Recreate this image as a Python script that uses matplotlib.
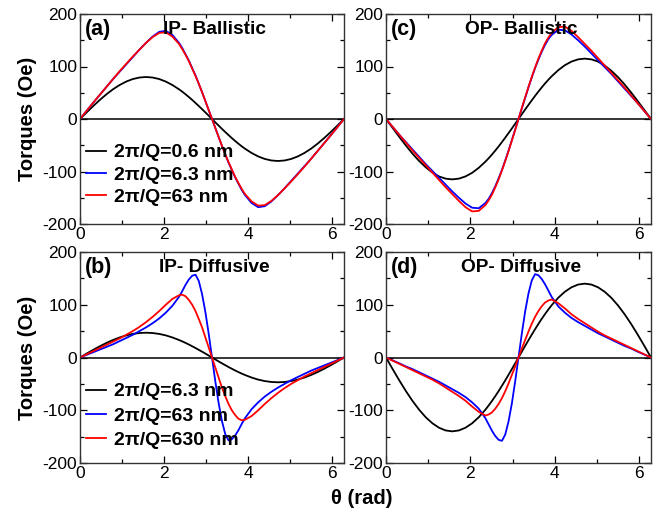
import numpy as np
import matplotlib
matplotlib.use("Agg")
import matplotlib.pyplot as plt
from matplotlib.ticker import MultipleLocator

plt.rcParams['font.family'] = ['Liberation Sans', 'DejaVu Sans']
plt.rcParams['axes.unicode_minus'] = False

# angle grid (degrees), finer near theta = pi
theta_deg = [0, 9, 18, 27, 36, 45, 54, 63, 72, 81, 90, 99, 108, 117, 126, 135,
             139.5, 144, 148.5, 153, 157.5, 162, 166.5, 171, 175.5, 180,
             184.5, 189, 193.5, 198, 202.5, 207, 211.5, 216, 220.5, 225,
             234, 243, 252, 261, 270, 279, 288, 297, 306, 315, 324, 333, 342, 351, 360]

# (a) IP - Ballistic
a_06 = [0, 12.5, 24.7, 36.3, 47.0, 56.6, 64.7, 71.3, 76.1, 79.0, 80.0, 79.0, 76.1, 71.3, 64.7, 56.6,
        52.0, 47.0, 41.8, 36.3, 30.6, 24.7, 18.7, 12.5, 6.3, 0,
        -6.3, -12.5, -18.7, -24.7, -30.6, -36.3, -41.8, -47.0, -52.0, -56.6,
        -64.7, -71.3, -76.1, -79.0, -80.0, -79.0, -76.1, -71.3, -64.7, -56.6, -47.0, -36.3, -24.7, -12.5, 0]
a_63 = [0, 15.5, 31, 46, 61, 76, 90, 104, 118, 132, 145, 157, 166, 168, 160, 145,
        135, 123, 111, 97, 83, 67, 51, 34, 17, 0,
        -17, -34, -51, -67, -83, -97, -111, -123, -135, -145,
        -160, -168, -166, -157, -145, -132, -118, -104, -90, -76, -61, -46, -31, -15.5, 0]
a_630 = [0, 15.5, 31, 46, 61, 76, 91, 105, 119, 132, 145, 156, 164, 165, 157, 143,
         133, 122, 110, 96, 82, 67, 51, 34, 17, 0,
         -17, -34, -51, -67, -82, -96, -110, -122, -133, -143,
         -157, -165, -164, -156, -145, -132, -119, -105, -91, -76, -61, -46, -31, -15.5, 0]

# (c) OP - Ballistic
c_06 = [0, -17.0, -34.0, -50.5, -66.0, -80.0, -92.0, -102.0, -109.4, -113.6, -115.0, -113.6, -109.4, -102.5, -93.0, -81.3,
        -74.7, -67.6, -60.1, -52.2, -44.0, -35.5, -26.8, -18.0, -9.0, 0,
        9.0, 18.0, 26.8, 35.5, 44.0, 52.2, 60.1, 67.6, 74.7, 81.3,
        93.0, 102.5, 109.4, 113.6, 115.0, 113.6, 109.4, 102.0, 92.0, 80.0, 66.0, 50.5, 34.0, 17.0, 0]
c_63 = [0, -15, -30, -44, -58, -72, -86, -99, -112, -125, -138, -150, -161, -169, -170, -160,
        -152, -141, -128, -113, -97, -79, -60, -40, -20, 0,
        20, 40, 60, 79, 97, 113, 128, 141, 152, 160,
        170, 169, 161, 150, 138, 125, 112, 99, 86, 72, 58, 44, 30, 15, 0]
c_630 = [0, -15, -30, -45, -60, -74, -88, -102, -116, -130, -143, -156, -168, -176, -175, -164,
         -155, -144, -130, -115, -98, -80, -61, -41, -21, 0,
         21, 41, 61, 80, 98, 115, 130, 144, 155, 164,
         175, 176, 168, 156, 143, 130, 116, 102, 88, 74, 60, 45, 30, 15, 0]

# (b) IP - Diffusive
b_63 = [0, 7.4, 14.5, 21.3, 27.6, 33.2, 38.0, 41.9, 44.7, 46.4, 47.0, 46.4, 44.7, 41.9, 38.0, 33.2,
        30.5, 27.6, 24.6, 21.3, 18.0, 14.5, 11.0, 7.4, 3.7, 0,
        -3.7, -7.4, -11.0, -14.5, -18.0, -21.3, -24.6, -27.6, -30.5, -33.2,
        -38.0, -41.9, -44.7, -46.4, -47.0, -46.4, -44.7, -41.9, -38.0, -33.2, -27.6, -21.3, -14.5, -7.4, 0]
b_630 = [0, 5, 10, 15, 20, 25, 31, 37, 43, 50, 57, 65, 74, 85, 98, 115,
         126, 138, 148, 155, 157, 145, 120, 86, 45, 0,
         -45, -86, -120, -145, -157, -155, -148, -138, -126, -115,
         -98, -85, -74, -65, -57, -50, -43, -37, -31, -25, -20, -15, -10, -5, 0]
b_6300 = [0, 6, 12, 18, 24, 30, 36, 43, 50, 58, 67, 77, 88, 100, 111, 118,
          119, 116, 109, 100, 88, 73, 57, 38, 19, 0,
          -19, -38, -57, -73, -88, -100, -109, -116, -119, -118,
          -111, -100, -88, -77, -67, -58, -50, -43, -36, -30, -24, -18, -12, -6, 0]

# (d) OP - Diffusive
d_63 = [0, -21.9, -43.3, -63.6, -82.3, -99.0, -113.3, -124.7, -133.1, -138.3, -140.0, -138.3, -133.1, -124.7, -113.3, -99.0,
        -90.9, -82.3, -73.2, -63.6, -53.6, -43.3, -32.7, -21.9, -11.0, 0,
        11.0, 21.9, 32.7, 43.3, 53.6, 63.6, 73.2, 82.3, 90.9, 99.0,
        113.3, 124.7, 133.1, 138.3, 140.0, 138.3, 133.1, 124.7, 113.3, 99.0, 82.3, 63.6, 43.3, 21.9, 0]
d_630 = [0, -5.5, -11, -17, -22, -28, -34, -40, -46, -53, -60, -67, -75, -85, -97, -115,
         -127, -139, -149, -156, -158, -146, -121, -87, -45, 0,
         45, 87, 121, 146, 158, 156, 149, 139, 127, 115,
         97, 85, 75, 67, 60, 53, 46, 40, 34, 28, 22, 17, 11, 5.5, 0]
d_6300 = [0, -6, -12, -18, -24, -30, -36, -42, -49, -57, -65, -73, -82, -93, -103, -110,
          -108, -104, -97, -88, -77, -64, -49, -33, -17, 0,
          17, 33, 49, 64, 77, 88, 97, 104, 108, 110,
          103, 93, 82, 73, 65, 57, 49, 42, 36, 30, 24, 18, 12, 6, 0]

labels_ballistic = ["2\u03c0/Q=0.6 nm", "2\u03c0/Q=6.3 nm", "2\u03c0/Q=63 nm"]
labels_diffusive = ["2\u03c0/Q=6.3 nm", "2\u03c0/Q=63 nm", "2\u03c0/Q=630 nm"]
colors = ["black", "#0000ff", "#ff0000"]

theta = np.deg2rad(theta_deg)

fig = plt.figure(figsize=(6.64, 5.13), dpi=100)
W, H = 664, 513

def make_ax(x0, y0, x1, y1):
    return fig.add_axes([x0 / W, 1 - y1 / H, (x1 - x0) / W, (y1 - y0) / H])

ax_a = make_ax(80, 14, 344, 224)
ax_c = make_ax(386, 14, 651, 224)
ax_b = make_ax(80, 252, 344, 463)
ax_d = make_ax(386, 252, 651, 463)

panels = [
    (ax_a, [a_06, a_63, a_630], labels_ballistic, "(a)", "IP- Ballistic", (0.24, 0.03)),
    (ax_c, [c_06, c_63, c_630], labels_ballistic, "(c)", "OP- Ballistic", None),
    (ax_b, [b_63, b_630, b_6300], labels_diffusive, "(b)", "IP- Diffusive", (0.34, 0.012)),
    (ax_d, [d_63, d_630, d_6300], labels_diffusive, "(d)", "OP- Diffusive", None),
]

for ax, series, labels, tag, title, leg in panels:
    ax.axhline(0, color="black", lw=1.1, zorder=1)
    for s, col, lab in zip(series, colors, labels):
        ax.plot(theta, s, color=col, lw=1.3, label=lab, zorder=2)
    ax.set_xlim(0, 2 * np.pi)
    ax.set_ylim(-200, 200)
    ax.xaxis.set_major_locator(MultipleLocator(2))
    ax.xaxis.set_minor_locator(MultipleLocator(1))
    ax.yaxis.set_major_locator(MultipleLocator(100))
    ax.yaxis.set_minor_locator(MultipleLocator(50))
    ax.tick_params(which="both", direction="in", top=True, right=True, labelsize=12.5, pad=2)
    ax.tick_params(which="major", length=5, width=0.9)
    ax.tick_params(which="minor", length=3, width=0.9)
    for sp in ax.spines.values():
        sp.set_linewidth(1.0)
        sp.set_color("#333333")
    ax.text(0.02, 0.925, tag, transform=ax.transAxes, fontsize=15.5, fontweight="bold",
            ha="left", va="center")
    ax.text(0.51, 0.925, title, transform=ax.transAxes, fontsize=13.8, fontweight="bold",
            ha="center", va="center")
    if leg is not None:
        ax.set_ylabel("Torques (Oe)", fontsize=14.5, fontweight="bold", labelpad=4)
        ax.legend(loc="lower left", bbox_to_anchor=(-0.02, leg[1]), frameon=False,
                  prop={"weight": "bold", "size": 14}, handlelength=1.0,
                  handletextpad=0.4, labelspacing=leg[0], borderaxespad=0.2)

fig.text(362 / W, 1 - 498 / H, "\u03b8 (rad)", fontsize=14.5, fontweight="bold",
         ha="center", va="center")

fig.savefig("out.png", dpi=100)
